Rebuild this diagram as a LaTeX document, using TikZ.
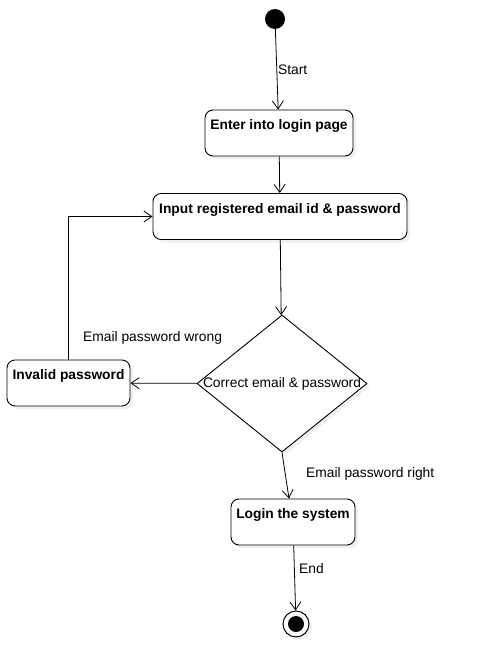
\documentclass[tikz,border=0pt]{standalone}
\usepackage{fontspec}
\setmainfont{Liberation Sans}
\usetikzlibrary{shapes.geometric,arrows.meta,shadows}

\tikzset{
  state/.style={draw, rounded corners=8pt, fill=white, line width=0.9pt, inner sep=0pt,
    text height=19.5pt, text depth=26.5pt, font=\fontsize{13.8}{16}\selectfont\bfseries,
    drop shadow={shadow xshift=3pt, shadow yshift=-3pt, opacity=0.12}},
  flow/.style={-{Straight Barb[length=8pt,width=11pt]}, line width=0.8pt},
  note/.style={anchor=west, inner sep=0pt},
}

\begin{document}
\begin{tikzpicture}[x=1pt,y=-1pt,font=\fontsize{13.8}{16}\selectfont]
	\useasboundingbox (0,0) rectangle (485,666);

	% Inicio y fin
	\node[circle, fill=black, minimum size=20pt, inner sep=0pt] (ini) at (275,19) {};
	\node[circle, draw, fill=white, line width=1pt, minimum size=26pt, inner sep=0pt,
	      drop shadow={shadow xshift=3pt, shadow yshift=-3pt, opacity=0.12}] (fin) at (296,624) {};
	\fill (fin.center) circle (8pt);

	% Estados
	\node[state, minimum width=148pt] (enter) at (279,133) {Enter into login page};
	\node[state, minimum width=254pt] (input) at (280,216.5) {Input registered email id \& password};
	\node[state, minimum width=123pt] (invalid) at (68.5,383) {Invalid password};
	\node[state, minimum width=124pt] (login) at (293,522) {Login the system};

	% Decision
	\node[diamond, draw, fill=white, line width=0.9pt, minimum width=170pt, minimum height=137pt, inner sep=0pt,
	      drop shadow={shadow xshift=3pt, shadow yshift=-3pt, opacity=0.12},
	      label=center:{Correct email \& password}] (check) at (282,383.5) {};

	% Flechas
	\draw[flow] (ini) -- node[right, inner sep=1pt] (lstart) {Start} (enter);
	\draw[flow] (enter) -- (input);
	\draw[flow] (input) -- (check);
	\draw[flow] (check) -- (invalid);
	\draw[flow] (invalid) |- (input);
	\draw[flow] (check.south) -- ([xshift=-4pt]login.north);
	\draw[flow] (login) -- (fin);

	% Etiquetas
	\node[note] (lwrong) at (83,338) {Email password wrong};
	\node[note] (lright) at (306,474) {Email password right};
	\node[note] (lend) at (299,569) {End};

\end{tikzpicture}
\end{document}
